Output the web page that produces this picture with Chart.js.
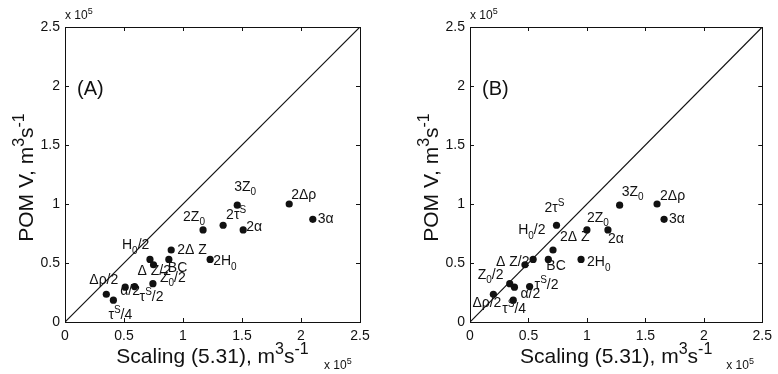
<!DOCTYPE html>
<html><head><meta charset="utf-8">
<script src="https://cdn.jsdelivr.net/npm/chart.js@4/dist/chart.umd.min.js"></script>
<style>
html,body{margin:0;padding:0;background:#fff;}
#wrap{position:relative;width:778px;height:374px;overflow:hidden;}
canvas{position:absolute;top:0;}
</style></head><body>
<div id="wrap">
<canvas id="ca" width="389" height="374" style="left:0;width:389px;height:374px"></canvas>
<canvas id="cb" width="389" height="374" style="left:389px;width:389px;height:374px"></canvas>
</div>
<script>
// ---- data (units of 1e5 m^3 s^-1) ----
const caseLabels = ['Δρ/2','τ^{S}/4','α/2','τ^{S}/2','Z_{0}/2','H_{0}/2','Δ Z/2','BC','2Δ Z','2Z_{0}','2τ^{S}','3Z_{0}','2α','2H_{0}','2Δρ','3α'];
const pomV      = [0.235,0.185,0.295,0.30,0.325,0.53,0.485,0.53,0.61,0.78,0.82,0.99,0.78,0.53,1.00,0.87];
const scalingA  = [0.35,0.41,0.51,0.59,0.745,0.72,0.75,0.88,0.90,1.17,1.34,1.46,1.51,1.23,1.90,2.10];
const scalingB  = [0.20,0.37,0.38,0.51,0.34,0.54,0.47,0.67,0.71,1.00,0.74,1.28,1.18,0.95,1.60,1.66];
const diagonal  = [0, 2.5];
const tickValues = [0,0.5,1,1.5,2,2.5];
const tickLabels = ['0','0.5','1','1.5','2','2.5'];
const panelNames = ['(A)','(B)'];
const xTitle = 'Scaling (5.31), m^{3}s^{-1}';
const yTitle = 'POM V, m^{3}s^{-1}';
const expLabel = 'x 10^{5}';

// ---- label placement (pixel offsets from each point) ----
const offA = [[-17,-10],[-5,19],[-5,8],[5,14],[7,-2],[-28,-10],[-16,10],[-1,13],[6,4],[-20,-9],[3,-6],[-3,-14],[3,1],[3,6],[2,-5],[5,4]];
const offB = [[-21,13],[-11,13],[6,11],[5,2],[-32,-5],[-15,-25],[-29,1],[-2,11],[7,-9],[0,-8],[-12,-13],[2,-9],[0,13],[6,7],[3,-4],[5,4]];

const FONT = '"Liberation Sans", Arial, Helvetica, sans-serif';
const INK = '#111';

function richParse(s){
  const segs=[]; let i=0, buf='';
  while(i<s.length){
    const c=s[i];
    if((c==='^'||c==='_') && s[i+1]==='{'){
      if(buf){segs.push({t:buf,m:0});buf='';}
      const j=s.indexOf('}',i);
      segs.push({t:s.slice(i+2,j), m: c==='^'?1:-1});
      i=j+1;
    } else {buf+=c;i++;}
  }
  if(buf) segs.push({t:buf,m:0});
  return segs;
}
function drawRich(ctx,s,x,y,size,align){
  const segs=richParse(s); const small=Math.round(size*0.74);
  let w=0;
  segs.forEach(g=>{ctx.font=(g.m?small:size)+'px '+FONT; g.w=ctx.measureText(g.t).width; w+=g.w;});
  let cx = align==='center'? x-w/2 : x;
  ctx.textAlign='left'; ctx.textBaseline='alphabetic'; ctx.fillStyle=INK;
  segs.forEach(g=>{
    ctx.font=(g.m?small:size)+'px '+FONT;
    const dy = g.m===1? -size*0.42 : (g.m===-1? size*0.3 : 0);
    ctx.fillText(g.t,cx,y+dy); cx+=g.w;
  });
}

function makeChart(id, xs, offs, panel, padL, padR){
  const pts = xs.map((v,i)=>({x:v,y:pomV[i]}));
  const deco = {
    id:'deco',
    afterDraw(chart){
      const ctx=chart.ctx, a=chart.chartArea, sx=chart.scales.x, sy=chart.scales.y;
      ctx.save();
      ctx.strokeStyle=INK; ctx.lineWidth=1;
      ctx.strokeRect(Math.round(a.left)+0.5, Math.round(a.top)+0.5, Math.round(a.right-a.left), Math.round(a.bottom-a.top));
      ctx.beginPath();
      tickValues.forEach(v=>{
        const px=Math.round(sx.getPixelForValue(v))+0.5, py=Math.round(sy.getPixelForValue(v))+0.5;
        ctx.moveTo(px,a.bottom); ctx.lineTo(px,a.bottom-4);
        ctx.moveTo(px,a.top); ctx.lineTo(px,a.top+4);
        ctx.moveTo(a.left,py); ctx.lineTo(a.left+4,py);
        ctx.moveTo(a.right,py); ctx.lineTo(a.right-4,py);
      });
      ctx.stroke();
      // point labels
      xs.forEach((v,i)=>{
        const px=sx.getPixelForValue(v), py=sy.getPixelForValue(pomV[i]);
        drawRich(ctx, caseLabels[i], px+offs[i][0], py+offs[i][1], 14, 'left');
      });
      // panel label
      drawRich(ctx, panelNames[panel], a.left+12, a.top+68, 20, 'left');
      // exponent labels
      drawRich(ctx, expLabel, a.left, a.top-8, 12, 'left');
      drawRich(ctx, expLabel, a.right-36, 369, 12, 'left');
      // x title
      drawRich(ctx, xTitle, (a.left+a.right)/2, 363, 21, 'center');
      // y title
      ctx.save();
      ctx.translate(a.left-32, (a.top+a.bottom)/2+3);
      ctx.rotate(-Math.PI/2);
      drawRich(ctx, yTitle, 0, 0, 21, 'center');
      ctx.restore();
      ctx.restore();
    }
  };
  return new Chart(document.getElementById(id), {
    type:'scatter',
    data:{datasets:[
      {type:'line', data: diagonal.map(v=>({x:v,y:v})), borderColor:INK, borderWidth:1.2, pointRadius:0, fill:false, tension:0},
      {type:'scatter', data: pts, backgroundColor:INK, borderWidth:0, pointRadius:3.6}
    ]},
    options:{
      responsive:false, animation:false, devicePixelRatio:1,
      layout:{padding:{left:padL, right:padR, top:27, bottom:22}},
      plugins:{legend:{display:false}, tooltip:{enabled:false}},
      scales:{
        x:{type:'linear', min:0, max:2.5,
           afterBuildTicks(s){ s.ticks = tickValues.map(v=>({value:v})); },
           ticks:{callback:(v,i)=>tickLabels[i], font:{family:FONT,size:14}, color:INK, padding:6, maxRotation:0, autoSkip:false},
           grid:{display:false, drawTicks:false}, border:{display:false},
           afterFit(s){ s.height=30; }},
        y:{type:'linear', min:0, max:2.5,
           afterBuildTicks(s){ s.ticks = tickValues.map(v=>({value:v})); },
           ticks:{callback:(v,i)=>tickLabels[i], font:{family:FONT,size:14}, color:INK, padding:5, autoSkip:false},
           grid:{display:false, drawTicks:false}, border:{display:false},
           afterFit(s){ s.width=40; }}
      }
    },
    plugins:[deco]
  });
}
makeChart('ca', scalingA, offA, 0, 25, 29);
makeChart('cb', scalingB, offB, 1, 41, 13);
</script>
</body></html>
